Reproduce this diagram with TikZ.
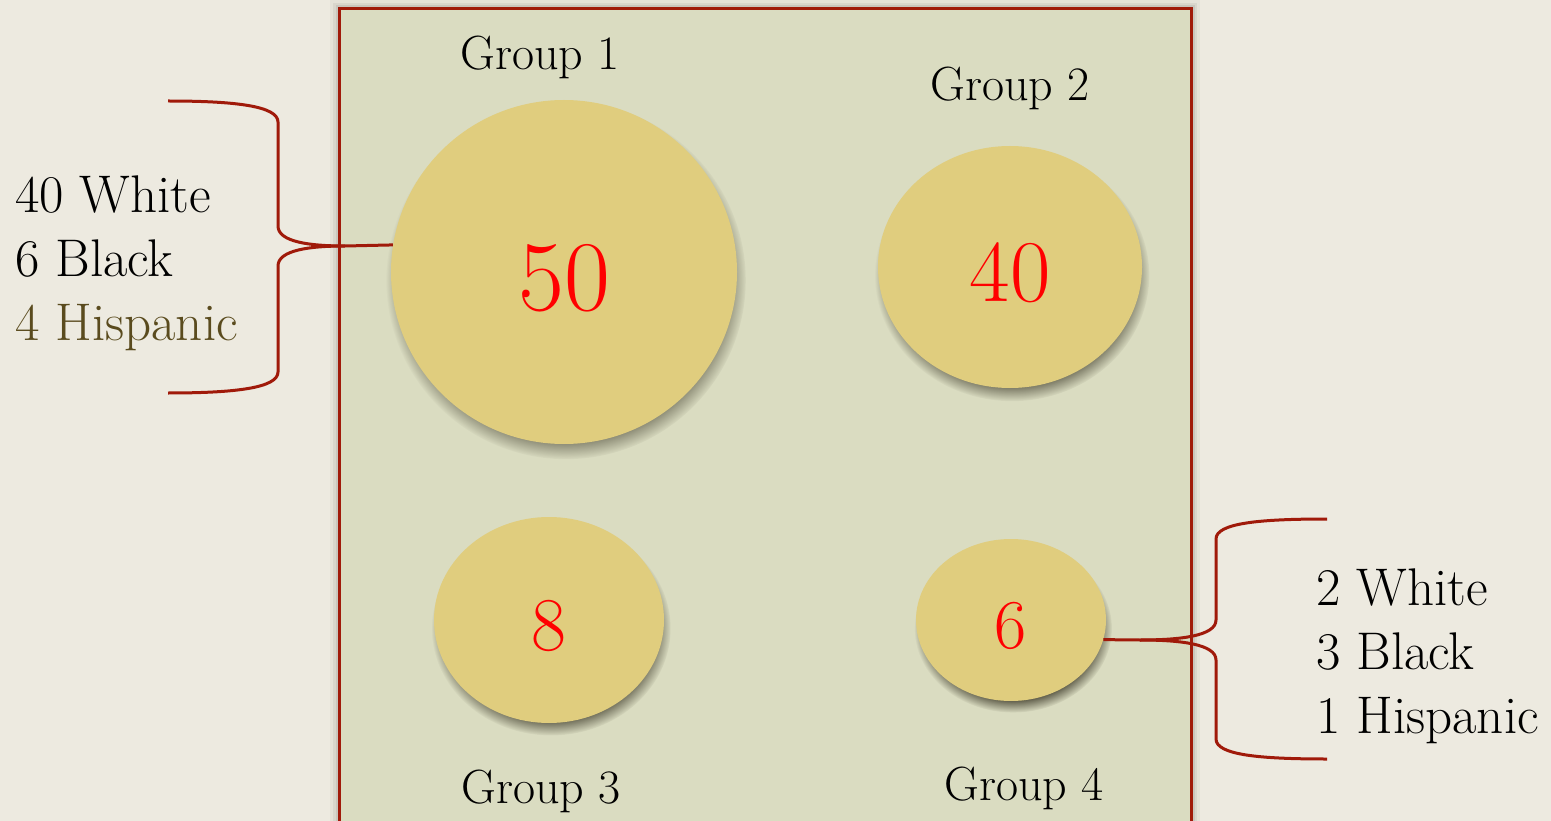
\documentclass[tikz,border=0pt]{standalone}
\usepackage{tikz}
\usetikzlibrary{positioning,shapes.geometric,shadows,fadings}
\definecolor{PaperBg}{RGB}{237,234,224}
\definecolor{PanelGreen}{RGB}{218,220,193}
\definecolor{FrameRed}{RGB}{160,26,10}
\definecolor{DiscGold}{RGB}{224,205,126}
\definecolor{OliveText}{RGB}{90,75,30}

\begin{document}
\begin{tikzpicture}[
      x=1pt, y=-1pt,
      every node/.style={inner sep=0pt},
      disc/.style={ellipse, fill=DiscGold, text=red, text depth=0pt,
                   general shadow={shadow scale=1.04, shadow xshift=2pt, shadow yshift=-8pt,
                                   opacity=.7, fill=black!80!DiscGold,
                                   path fading={circle with fuzzy edge 15 percent}}},
      grouplabel/.style={font=\fontsize{48}{48}\selectfont, anchor=base},
      tally/.style={font=\fontsize{53}{64}\selectfont, align=left, anchor=west},
      brace/.style={draw=FrameRed, line width=3pt, line join=round}
    ]
      \clip (0,0) rectangle (1551,821);
      \fill[PaperBg] (0,0) rectangle (1551,821);

      % panel with soft shadow
      \foreach \w/\o in {18/.03, 12/.05, 7/.07}
        \draw[line width=\w pt, black, opacity=\o] (339,9) rectangle (1191,840);
      \fill[PanelGreen] (339,9) rectangle (1191,840);
      \draw[FrameRed, line width=3pt] (339,9) rectangle (1191,840);

      % groups
      \node[disc, minimum width=346pt, minimum height=344pt, text height=78pt,
            font=\fontsize{100}{100}\selectfont] (g1) at (564,272) {50};
      \node[disc, minimum width=264pt, minimum height=242pt, text height=69pt,
            font=\fontsize{88}{88}\selectfont] (g2) at (1010,267) {40};
      \node[disc, minimum width=230pt, minimum height=206pt, text height=60pt,
            font=\fontsize{76}{76}\selectfont] (g3) at (549,620) {8};
      \node[disc, minimum width=190pt, minimum height=162pt, text height=57pt,
            font=\fontsize{70}{70}\selectfont] (g4) at (1011,620) {6};

      \node[grouplabel] (l1) at (540,70) {Group 1};
      \node[grouplabel] (l2) at (1010,101) {Group 2};
      \node[grouplabel] (l3) at (541,803) {Group 3};
      \node[grouplabel] (l4) at (1024,800) {Group 4};

      % breakdowns
      \node[tally] (t1) at (15,263) {40 White\\6 Black\\\textcolor{OliveText}{4 Hispanic}};
      \node[tally] (t4) at (1316,656) {2 White\\3 Black\\1 Hispanic};

      \coordinate (b1top) at (168,101);
      \coordinate (b1bot) at (168,393);
      \coordinate (b4top) at (1327,519);
      \coordinate (b4bot) at (1327,759);

      \draw[brace] (b1top) .. controls (235,101) and (278,106) .. (278,122) -- (278,226)
        .. controls (278,242) and (310,246) .. (345,246) -- (g1.171);
      \draw[brace] (b1bot) .. controls (235,393) and (278,388) .. (278,372) -- (278,266)
        .. controls (278,250) and (310,246) .. (345,246);
      \draw[brace] (b4top) .. controls (1260,519) and (1216,523) .. (1216,539) -- (1216,620)
        .. controls (1216,636) and (1180,640) .. (1140,640) -- (g4.-12);
      \draw[brace] (b4bot) .. controls (1260,759) and (1216,755) .. (1216,739) -- (1216,660)
        .. controls (1216,644) and (1180,640) .. (1140,640);
    \end{tikzpicture}
\end{document}
